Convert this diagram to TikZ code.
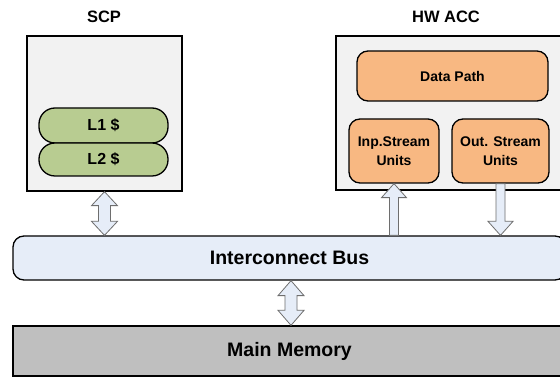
\documentclass[tikz,border=0pt]{standalone}
\usepackage{fontspec}
\setmainfont{Liberation Sans}
\usetikzlibrary{calc}
\definecolor{boxgray}{RGB}{242,242,242}
\definecolor{cachegreen}{RGB}{184,204,145}
\definecolor{unitorange}{RGB}{248,184,130}
\definecolor{busblue}{RGB}{230,237,248}
\definecolor{memgray}{RGB}{191,191,191}
\definecolor{arrowline}{RGB}{110,110,110}
\tikzset{
  block/.style={draw=black, line width=1.3pt, inner sep=0pt, font=\bfseries},
  outerbox/.style={block, fill=boxgray},
  cache/.style={block, fill=cachegreen, rounded corners=16pt, font=\bfseries\fontsize{16}{19}\selectfont},
  unit/.style={block, fill=unitorange, rounded corners=11pt, align=center, font=\bfseries\fontsize{14}{19.5}\selectfont},
  titletext/.style={inner sep=0pt, font=\bfseries\fontsize{16.5}{19}\selectfont},
  bigtext/.style={font=\bfseries\fontsize{19.5}{22}\selectfont},
  fatarrow/.style={draw=arrowline, line width=0.8pt, fill=busblue, line join=miter}
}
\begin{document}
\begin{tikzpicture}[x=1pt,y=-1pt]
\clip (0,0) rectangle (560,379);
\fill[white] (0,0) rectangle (560,379);

% titles
\node[titletext] (scplabel) at (104,17) {SCP};
\node[titletext] (hwlabel) at (446,17) {HW ACC};

% outer boxes
\node[outerbox, minimum width=155pt, minimum height=155pt] (scp) at (104.5,113.5) {};
\node[outerbox, minimum width=234pt, minimum height=154pt] (hw) at (453,113) {};

% caches
\node[cache, minimum width=129pt, minimum height=35pt] (l1) at (103.5,125.5) {L1 \$};
\node[cache, minimum width=129pt, minimum height=33pt] (l2) at (103.5,159.5) {L2 \$};

% accelerator units
\node[unit, minimum width=191pt, minimum height=50pt] (dp) at (452.5,76) {Data Path};
\node[unit, minimum width=90pt, minimum height=64pt] (inp) at (394,151) {Inp.Stream\\Units};
\node[unit, minimum width=97pt, minimum height=64pt] (out) at (500.5,151) {Out. Stream\\Units};

% bus and memory
\node[block, fill=busblue, rounded corners=11pt, minimum width=553pt, minimum height=44pt, bigtext] (bus) at (289.5,258) {Interconnect Bus};
\node[block, fill=memgray, minimum width=553pt, minimum height=50pt, bigtext] (mem) at (289.5,351) {Main Memory};

% connector end points
\coordinate (a1t) at (scp.south);
\coordinate (a1b) at (scp.south |- bus.north);
\coordinate (a2t) at ($(bus.south)+(1.5,0)$);
\coordinate (a2b) at (a2t |- mem.north);
\coordinate (a3t) at (inp.south);
\coordinate (a3b) at (inp.south |- bus.north);
\coordinate (a4t) at (out.south);
\coordinate (a4b) at (out.south |- bus.north);

% SCP <-> bus double arrow
\draw[fatarrow] (a1t) -- ++(13,14) -- ++(-7,0) -- ($(a1b)+(6,-14)$) -- ++(7,0) -- (a1b)
  -- ++(-13,-14) -- ++(7,0) -- ($(a1t)+(-6,14)$) -- ++(-7,0) -- cycle;
% bus <-> memory double arrow
\draw[fatarrow] (a2t) -- ++(13,15) -- ++(-7,0) -- ($(a2b)+(6,-15)$) -- ++(7,0) -- (a2b)
  -- ++(-13,-15) -- ++(7,0) -- ($(a2t)+(-6,15)$) -- ++(-7,0) -- cycle;
% bus -> input stream units
\draw[fatarrow] (a3t) -- ++(12.5,14) -- ++(-8,0) -- ($(a3b)+(4.5,0)$) -- ($(a3b)+(-4.5,0)$)
  -- ($(a3t)+(-4.5,14)$) -- ++(-8,0) -- cycle;
% output stream units -> bus
\draw[fatarrow] (a4b) -- ++(12.5,-14) -- ++(-8,0) -- ($(a4t)+(4.5,0)$) -- ($(a4t)+(-4.5,0)$)
  -- ($(a4b)+(-4.5,-14)$) -- ++(-8,0) -- cycle;
\end{tikzpicture}
\end{document}
